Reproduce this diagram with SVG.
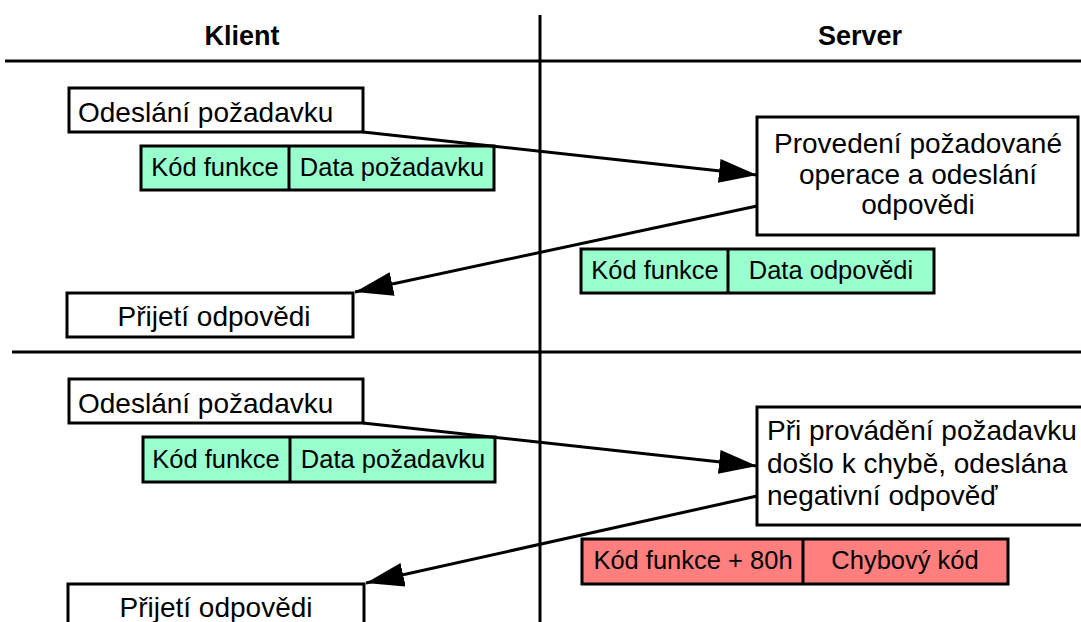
<svg xmlns="http://www.w3.org/2000/svg" width="1081" height="622" viewBox="0 0 1081 622">
  <defs>
    <marker id="arrow" markerUnits="userSpaceOnUse" markerWidth="40" markerHeight="26" refX="38" refY="12" orient="auto">
      <path d="M0,0 L38,12 L0,24 Z" fill="#000"/>
    </marker>
    <style>
      .rule { stroke: #000; stroke-width: 3; fill: none; }
      .box { fill: #fff; stroke: #000; stroke-width: 3; }
      .ok { fill: #99ffcc; stroke: #000; stroke-width: 3; }
      .err { fill: #ff7f7f; stroke: #000; stroke-width: 3; }
      .sep { stroke: #000; stroke-width: 3; }
      .head { font-family: "Liberation Sans", Arial, sans-serif; font-weight: bold; font-size: 27px; fill: #000; text-anchor: middle; }
      .t { font-family: "Liberation Sans", Arial, sans-serif; font-size: 28px; fill: #000; }
      .s { font-family: "Liberation Sans", Arial, sans-serif; font-size: 25.5px; fill: #000; text-anchor: middle; }
      .c { text-anchor: middle; }
      .conn { stroke: #000; stroke-width: 3; fill: none; marker-end: url(#arrow); }
    </style>
  </defs>

  <rect width="1081" height="622" fill="#fff"/>

  <!-- swimlane grid -->
  <g id="grid">
    <line class="rule" x1="540" y1="15" x2="540" y2="622"/>
    <line class="rule" x1="5" y1="61" x2="1081" y2="61"/>
    <line class="rule" x1="12" y1="352" x2="1081" y2="352"/>
    <text class="head" x="242" y="45">Klient</text>
    <text class="head" x="860" y="45">Server</text>
  </g>

  <!-- successful request / response -->
  <g id="req1">
    <rect class="box" x="69" y="88" width="294" height="44"/>
    <text class="t" x="78" y="122">Odeslání požadavku</text>
  </g>
  <g id="req1-pdu">
    <rect class="ok" x="141" y="146" width="353" height="44"/>
    <line class="sep" x1="289" y1="146" x2="289" y2="190"/>
    <text class="s" x="215" y="176">Kód funkce</text>
    <text class="s" x="392" y="176">Data požadavku</text>
  </g>
  <g id="srv1">
    <rect class="box" x="757" y="117" width="321" height="118"/>
    <text class="t c" x="918" y="153">Provedení požadované</text>
    <text class="t c" x="918" y="184">operace a odeslání</text>
    <text class="t c" x="918" y="214">odpovědi</text>
  </g>
  <g id="resp1-pdu">
    <rect class="ok" x="581" y="249" width="353" height="44"/>
    <line class="sep" x1="728" y1="249" x2="728" y2="293"/>
    <text class="s" x="655" y="279">Kód funkce</text>
    <text class="s" x="831" y="279">Data odpovědi</text>
  </g>
  <g id="resp1">
    <rect class="box" x="67" y="293" width="286" height="44"/>
    <text class="t c" x="214" y="326">Přijetí odpovědi</text>
  </g>

  <!-- request ending with an exception response -->
  <g id="req2">
    <rect class="box" x="69" y="379" width="294" height="44"/>
    <text class="t" x="78" y="413">Odeslání požadavku</text>
  </g>
  <g id="req2-pdu">
    <rect class="ok" x="143" y="437" width="352" height="45"/>
    <line class="sep" x1="290" y1="437" x2="290" y2="482"/>
    <text class="s" x="216" y="468">Kód funkce</text>
    <text class="s" x="393" y="468">Data požadavku</text>
  </g>
  <g id="srv2">
    <rect class="box" x="757" y="407" width="330" height="118"/>
    <text class="t" x="767" y="440">Při provádění požadavku</text>
    <text class="t" x="767" y="473">došlo k chybě, odeslána</text>
    <text class="t" x="767" y="505">negativní odpověď</text>
  </g>
  <g id="err-pdu">
    <rect class="err" x="582" y="539" width="426" height="45"/>
    <line class="sep" x1="803" y1="539" x2="803" y2="584"/>
    <text class="s" x="693" y="569">Kód funkce + 80h</text>
    <text class="s" x="905" y="569">Chybový kód</text>
  </g>
  <g id="resp2">
    <rect class="box" x="68" y="584" width="296" height="50"/>
    <text class="t c" x="216" y="617">Přijetí odpovědi</text>
  </g>

  <!-- message flow -->
  <g id="connectors">
    <line class="conn" x1="363" y1="132" x2="757" y2="175"/>
    <line class="conn" x1="757" y1="206" x2="355" y2="292"/>
    <line class="conn" x1="363" y1="423" x2="757" y2="466"/>
    <line class="conn" x1="757" y1="496" x2="366" y2="583"/>
  </g>
</svg>
